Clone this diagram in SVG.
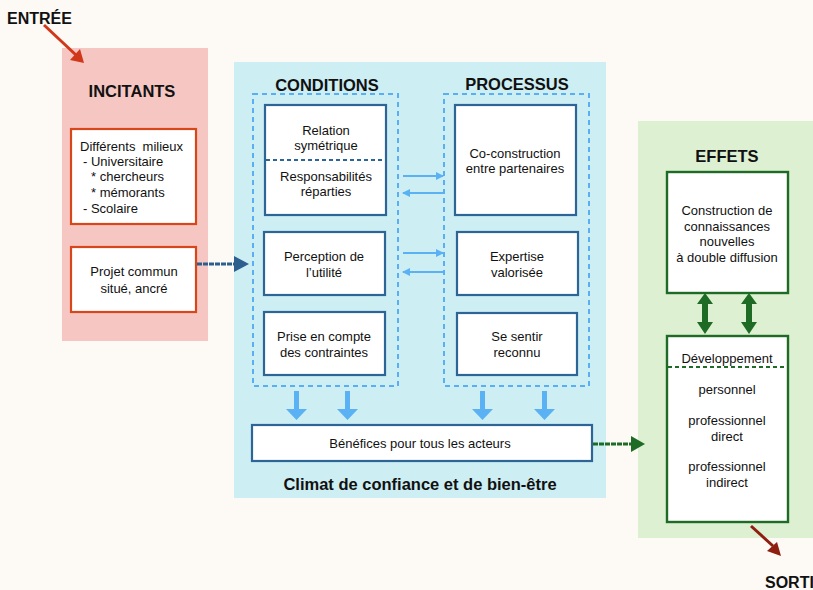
<svg xmlns="http://www.w3.org/2000/svg" width="813" height="590" viewBox="0 0 813 590">
<defs>
<style>
text{font-family:"Liberation Sans",Arial,sans-serif;fill:#111;}
.t{font-size:13px;text-anchor:middle;}
.tl{font-size:13px;}
.h{font-size:16.5px;font-weight:bold;text-anchor:middle;}
.red{fill:#fff;stroke:#D8461A;stroke-width:2.2;}
.blu{fill:#fff;stroke:#2C6596;stroke-width:2.2;}
.grn{fill:#fff;stroke:#1E6B25;stroke-width:2.4;}
.dash{fill:none;stroke:#5AAEF4;stroke-width:2;stroke-dasharray:5,4;}
.lb{stroke:#5AB2F5;stroke-width:2;fill:none;}
</style>
<marker id="mlb" markerWidth="8" markerHeight="8" refX="7" refY="4" orient="auto" markerUnits="userSpaceOnUse">
<path d="M0,0 L8,4 L0,8 Z" fill="#5AB2F5"/>
</marker>
</defs>
<rect x="0" y="0" width="813" height="590" fill="#FDF9F4"/>

<g id="panels">
<rect x="62" y="48" width="146" height="293" fill="#F6C6C3"/>
<rect x="234" y="62" width="372" height="436" fill="#CDEEF3"/>
<rect x="638" y="121" width="175" height="417" fill="#DDF0D2"/>
<rect x="253" y="94" width="145" height="292" class="dash"/>
<rect x="444" y="94" width="145" height="292" class="dash"/>
</g>

<g id="titles">
<text x="7" y="24" style="font-size:16px;font-weight:bold;">ENTRÉE</text>
<text x="132" y="97" class="h">INCITANTS</text>
<text x="327" y="91" class="h">CONDITIONS</text>
<text x="517" y="90" class="h">PROCESSUS</text>
<text x="727" y="162" class="h">EFFETS</text>
<text x="420" y="490" class="h">Climat de confiance et de bien-être</text>
<text x="765" y="588" style="font-size:16px;font-weight:bold;">SORTIE</text>
</g>

<g id="node-milieux">
<rect x="71" y="129" width="125" height="95" class="red"/>
<text x="80" y="151" class="tl">Différents&#160; milieux</text>
<text x="83" y="166" class="tl">- Universitaire</text>
<text x="91" y="181" class="tl">* chercheurs</text>
<text x="91" y="197" class="tl">* mémorants</text>
<text x="83" y="213" class="tl">- Scolaire</text>
</g>
<g id="node-projet">
<rect x="71" y="247" width="125" height="65" class="red"/>
<text x="134" y="276" class="t">Projet commun</text>
<text x="134" y="293" class="t">situé, ancré</text>
</g>

<g id="node-relation">
<rect x="265" y="105" width="121" height="110" class="blu"/>
<line x1="266" y1="160" x2="385" y2="160" stroke="#2C6596" stroke-width="2" stroke-dasharray="4,3"/>
<text x="326" y="135" class="t">Relation</text>
<text x="326" y="150" class="t">symétrique</text>
<text x="326" y="181" class="t">Responsabilités</text>
<text x="326" y="196" class="t">réparties</text>
</g>
<g id="node-perception">
<rect x="264" y="232" width="121" height="63" class="blu"/>
<text x="324" y="261" class="t">Perception de</text>
<text x="324" y="277" class="t">l’utilité</text>
</g>
<g id="node-prise">
<rect x="264" y="312" width="121" height="63" class="blu"/>
<text x="324" y="341" class="t">Prise en compte</text>
<text x="324" y="357" class="t">des contraintes</text>
</g>
<g id="node-coconstruction">
<rect x="455" y="105" width="121" height="110" class="blu"/>
<text x="515" y="158" class="t">Co-construction</text>
<text x="515" y="173" class="t">entre partenaires</text>
</g>
<g id="node-expertise">
<rect x="457" y="232" width="121" height="63" class="blu"/>
<text x="517" y="261" class="t">Expertise</text>
<text x="517" y="277" class="t">valorisée</text>
</g>
<g id="node-sentir">
<rect x="457" y="313" width="120" height="62" class="blu"/>
<text x="517" y="341" class="t">Se sentir</text>
<text x="517" y="357" class="t">reconnu</text>
</g>
<g id="node-benefices">
<rect x="252" y="425" width="340" height="36" class="blu"/>
<text x="420" y="448" class="t">Bénéfices pour tous les acteurs</text>
</g>
<g id="node-construction">
<rect x="667" y="172" width="121" height="121" class="grn"/>
<text x="727" y="215" class="t">Construction de</text>
<text x="727" y="231" class="t">connaissances</text>
<text x="727" y="246" class="t">nouvelles</text>
<text x="727" y="262" class="t">à double diffusion</text>
</g>
<g id="node-developpement">
<rect x="667" y="336" width="121" height="186" class="grn"/>
<line x1="668" y1="367" x2="787" y2="367" stroke="#1E6B25" stroke-width="2" stroke-dasharray="4,3"/>
<text x="727" y="363" class="t">Développement</text>
<text x="727" y="394" class="t">personnel</text>
<text x="727" y="425" class="t">professionnel</text>
<text x="727" y="441" class="t">direct</text>
<text x="727" y="471" class="t">professionnel</text>
<text x="727" y="487" class="t">indirect</text>
</g>

<g id="connectors">
<line x1="44" y1="25" x2="76" y2="55" stroke="#D0381A" stroke-width="3"/>
<polygon points="70,60 84,63 80,49" fill="#D0381A"/>
<line x1="197" y1="264" x2="236" y2="264" stroke="#2C5E8E" stroke-width="3" stroke-dasharray="5,1"/>
<polygon points="234,256 249,264 234,272" fill="#2C5E8E"/>
<line x1="403" y1="176" x2="443" y2="176" class="lb" marker-end="url(#mlb)"/>
<line x1="443" y1="193" x2="403" y2="193" class="lb" marker-end="url(#mlb)"/>
<line x1="403" y1="253" x2="443" y2="253" class="lb" marker-end="url(#mlb)"/>
<line x1="443" y1="272" x2="403" y2="272" class="lb" marker-end="url(#mlb)"/>
<g fill="#5AB2F5">
<path d="M294,391 h5 v18 h8 l-10.5,11 l-10.5,-11 h8 z"/>
<path d="M345,391 h5 v18 h8 l-10.5,11 l-10.5,-11 h8 z"/>
<path d="M480,391 h5 v18 h8 l-10.5,11 l-10.5,-11 h8 z"/>
<path d="M542,391 h5 v18 h8 l-10.5,11 l-10.5,-11 h8 z"/>
</g>
<line x1="593" y1="444" x2="634" y2="444" stroke="#1E6B25" stroke-width="3" stroke-dasharray="5,1"/>
<polygon points="631,436 645,444 631,452" fill="#1E6B25"/>
<g fill="#1E6B25">
<path d="M705,293 l8,11 h-5 v18 h5 l-8,12 l-8,-12 h5 v-18 h-5 z"/>
<path d="M749,293 l8,11 h-5 v18 h5 l-8,12 l-8,-12 h5 v-18 h-5 z"/>
</g>
<line x1="751" y1="526" x2="773" y2="546" stroke="#8E1E10" stroke-width="3"/>
<polygon points="767,551 781,556 777,542" fill="#8E1E10"/>
</g>
</svg>
